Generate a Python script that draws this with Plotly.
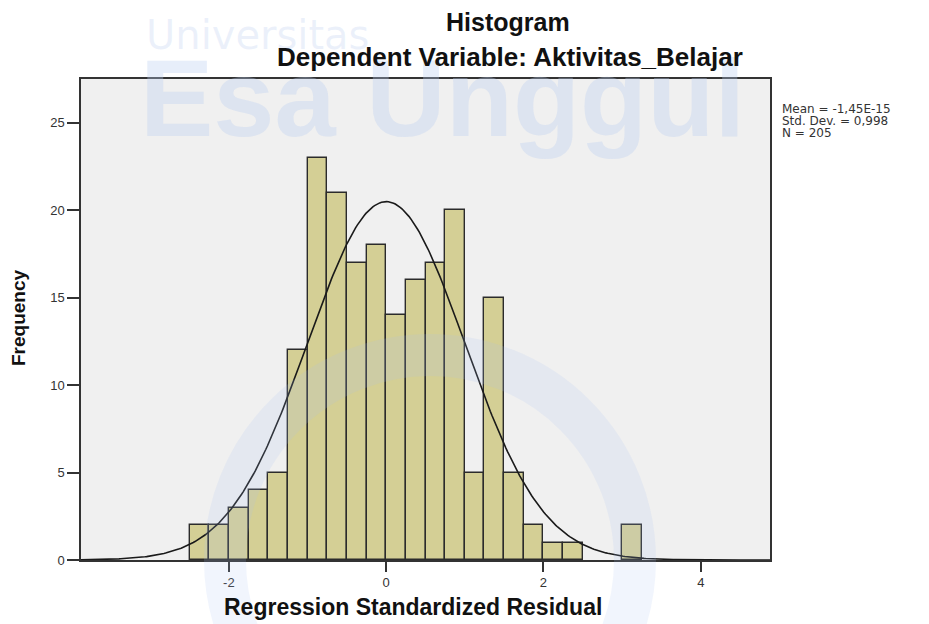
"""SPSS-style regression residual histogram with fitted normal curve."""

import numpy as np
import plotly.graph_objects as go

# histogram bins (left edge of each bar) and their frequencies
bin_lefts = [-2.5, -2.25, -2.0, -1.75, -1.5, -1.25, -1.0, -0.75, -0.5, -0.25,
             0.0, 0.25, 0.5, 0.75, 1.0, 1.25, 1.5, 1.75, 2.0, 2.25, 3.0]
counts = [2, 2, 3, 4, 5, 12, 23, 21, 17, 18,
          14, 16, 17, 20, 5, 15, 5, 2, 1, 1, 2]
bin_width = 0.25

# summary stats shown beside the plot
mean = -1.45e-15
std_dev = 0.998
n_obs = 205
stats_lines = ["Mean = -1,45E-15", "Std. Dev. = 0,998", "N = 205"]

x_ticks = [-2, 0, 2, 4]
y_ticks = [0, 5, 10, 15, 20, 25]

FONT = "Liberation Sans, Arial, sans-serif"
# the page body adds an 8px margin, so the figure is made 8px smaller
OFF = 8
W, H = 929 - OFF, 624 - OFF
L, R, T, B = 81 - OFF, 159, 79 - OFF, 64
PW, PH = W - L - R, H - T - B


def px(x, y):
    """pixel position in the window -> paper coordinates"""
    return (x - OFF - L) / PW, (H - B - (y - OFF)) / PH


centers = [b + bin_width / 2 for b in bin_lefts]

fig = go.Figure()
fig.add_trace(go.Bar(
    x=centers, y=counts, width=bin_width,
    marker=dict(color="#d4cf95", line=dict(color="#2b2b2b", width=1.4)),
    hoverinfo="x+y",
))

# normal curve scaled to the histogram (N * bin width * pdf)
xs = np.linspace(-3.88, 4.88, 400)
ys = n_obs * bin_width / (std_dev * np.sqrt(2 * np.pi)) * np.exp(-0.5 * ((xs - mean) / std_dev) ** 2)
fig.add_trace(go.Scatter(x=xs, y=ys, mode="lines", line=dict(color="#1a1a1a", width=1.6),
                         hoverinfo="skip"))

fig.update_layout(
    width=W, height=H,
    margin=dict(l=L, r=R, t=T, b=B),
    paper_bgcolor="white",
    plot_bgcolor="#f0f0f0",
    showlegend=False,
    bargap=0,
    font=dict(family=FONT, color="#333333", size=13),
)
fig.update_xaxes(
    range=[-3.88, 4.88], tickvals=x_ticks, ticktext=[str(v) for v in x_ticks],
    showgrid=False, zeroline=False,
    showline=True, linecolor="#333333", linewidth=1.5, mirror=True,
    ticks="outside", ticklen=10, tickwidth=1.5, tickcolor="#333333",
    tickfont=dict(size=13, color="#333333"),
)
fig.update_yaxes(
    range=[0, 27.5], tickvals=y_ticks,
    showgrid=False, zeroline=False,
    showline=True, linecolor="#333333", linewidth=1.5, mirror=True,
    ticks="outside", ticklen=12, tickwidth=1.5, tickcolor="#333333",
    tickfont=dict(size=13, color="#333333"),
)

# faint university watermark (drawn first so the real texts sit on top)
wx, wy = px(257, 35)
fig.add_annotation(text="Universitas", x=wx, y=wy, xref="paper", yref="paper",
                   showarrow=False, xanchor="center", yanchor="middle",
                   font=dict(family="DejaVu Sans, sans-serif", size=40, color="rgba(185,205,240,0.28)"))
wx, wy = px(442, 98)
fig.add_annotation(text="<b>Esa Unggul</b>", x=wx, y=wy, xref="paper", yref="paper",
                   showarrow=False, xanchor="center", yanchor="middle",
                   font=dict(family=FONT, size=110, color="rgba(185,205,240,0.34)"))
x0, y0 = px(225, 765)
x1, y1 = px(635, 355)
fig.add_shape(type="circle", xref="paper", yref="paper", layer="above",
              x0=x0, x1=x1, y0=y0, y1=y1,
              line=dict(color="rgba(165,195,240,0.16)", width=42))

# titles
titles = [
    dict(text="<b>Histogram</b>", x=508, y=22, size=25, angle=0),
    dict(text="<b>Dependent Variable: Aktivitas_Belajar</b>", x=510, y=57, size=26, angle=0),
    dict(text="<b>Regression Standardized Residual</b>", x=413, y=607, size=23, angle=0),
    dict(text="<b>Frequency</b>", x=18, y=317, size=19, angle=-90),
]
for t in titles:
    ax_, ay_ = px(t["x"], t["y"])
    fig.add_annotation(text=t["text"], x=ax_, y=ay_, xref="paper", yref="paper",
                       showarrow=False, xanchor="center", yanchor="middle", textangle=t["angle"],
                       borderpad=0,
                       font=dict(family=FONT, size=t["size"], color="#111111"))

# stats box to the right of the plot (tight line spacing like SPSS)
for i, line in enumerate(stats_lines):
    sx, sy = px(781, 109 + 12 * i)
    fig.add_annotation(text=line, x=sx, y=sy, xref="paper", yref="paper",
                       showarrow=False, xanchor="left", yanchor="middle", align="left",
                       borderpad=0,
                       font=dict(family="DejaVu Sans, sans-serif", size=12, color="#333333"))

fig.write_html("out.html")
